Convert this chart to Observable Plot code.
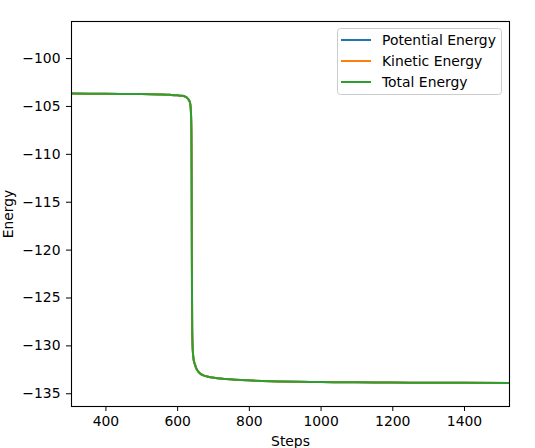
<!DOCTYPE html>
<html><head><meta charset="utf-8">
<script src="https://cdn.jsdelivr.net/npm/d3@7"></script>
<script src="https://cdn.jsdelivr.net/npm/@observablehq/plot@0.6"></script>
<style>body{margin:0;background:#fff}</style>
</head><body><div id="chart"></div>
<script>
const steps = [300, 400, 500, 550, 580, 600, 610, 620, 626, 630, 633, 635, 636.5, 637.5, 638.5, 639, 639.5, 640, 640.5, 641.5, 643, 645.5, 648.3, 652, 657.7, 665, 673.4, 685, 701, 734, 795, 860, 1000, 1100, 1200, 1300, 1400, 1530];
const potential = [-103.66, -103.68, -103.71, -103.75, -103.79, -103.84, -103.88, -103.96, -104.08, -104.25, -104.45, -104.7, -105.2, -106.0, -108.0, -112.0, -118.0, -124.0, -128.0, -129.8, -130.9, -131.6, -131.95, -132.35, -132.68, -132.95, -133.1, -133.22, -133.33, -133.45, -133.6, -133.7, -133.78, -133.81, -133.83, -133.85, -133.86, -133.88];
const kinetic = [-103.66, -103.68, -103.71, -103.75, -103.79, -103.84, -103.88, -103.96, -104.08, -104.25, -104.45, -104.7, -105.2, -106.0, -108.0, -112.0, -118.0, -124.0, -128.0, -129.8, -130.9, -131.6, -131.95, -132.35, -132.68, -132.95, -133.1, -133.22, -133.33, -133.45, -133.6, -133.7, -133.78, -133.81, -133.83, -133.85, -133.86, -133.88];
const total = [-103.66, -103.68, -103.71, -103.75, -103.79, -103.84, -103.88, -103.96, -104.08, -104.25, -104.45, -104.7, -105.2, -106.0, -108.0, -112.0, -118.0, -124.0, -128.0, -129.8, -130.9, -131.6, -131.95, -132.35, -132.68, -132.95, -133.1, -133.22, -133.33, -133.45, -133.6, -133.7, -133.78, -133.81, -133.83, -133.85, -133.86, -133.88];
const seriesNames = ["Potential Energy", "Kinetic Energy", "Total Energy"];
const seriesColors = ["#1f77b4", "#ff7f0e", "#2ca02c"];
const xTicks = [400, 600, 800, 1000, 1200, 1400];
const yTicks = [-135, -130, -125, -120, -115, -110, -105, -100];

const seriesValues = [potential, kinetic, total];
const rows = [];
seriesNames.forEach((name, i) => {
  steps.forEach((s, j) => rows.push({step: s, energy: seriesValues[i][j], series: name}));
});

const font = "DejaVu Sans";
const chart = Plot.plot({
  width: 535, height: 448,
  marginLeft: 71, marginRight: 26, marginTop: 21, marginBottom: 42,
  style: {fontFamily: font, fontSize: "13.9px", color: "black", background: "white"},
  x: {domain: [304, 1525.5]},
  y: {domain: [-136.33, -96.13]},
  color: {domain: seriesNames, range: seriesColors},
  marks: [
    Plot.line(rows, {x: "step", y: "energy", z: "series", stroke: "series", strokeWidth: 2, curve: "monotone-x", clip: true}),
    Plot.frame({stroke: "black", strokeWidth: 1.1}),
    Plot.axisX({ticks: xTicks, tickFormat: "d", tickSize: 5, tickPadding: 5, label: "Steps", labelAnchor: "center", labelArrow: "none", fontSize: 13.9}),
    Plot.axisY({ticks: yTicks, tickFormat: "d", tickSize: 5, tickPadding: 6, label: "Energy", labelAnchor: "center", labelArrow: "none", fontSize: 13.9})
  ]
});
document.getElementById("chart").appendChild(chart);

// legend (matplotlib style, upper right)
const svg = d3.select(chart);
const lg = svg.append("g").attr("text-anchor", "start");
lg.append("rect").attr("x", 337.5).attr("y", 28.5).attr("width", 164).attr("height", 66)
  .attr("rx", 3).attr("fill", "white").attr("fill-opacity", 0.8).attr("stroke", "#cccccc").attr("stroke-width", 1);
seriesNames.forEach((name, i) => {
  const y = 40 + i * 21;
  lg.append("line").attr("x1", 341).attr("x2", 371).attr("y1", y).attr("y2", y)
    .attr("stroke", seriesColors[i]).attr("stroke-width", 2);
  lg.append("text").attr("x", 382).attr("y", y + 5).attr("font-family", font).attr("font-size", 13.9)
    .attr("text-anchor", "start").attr("fill", "black").text(name);
});
</script></body></html>
